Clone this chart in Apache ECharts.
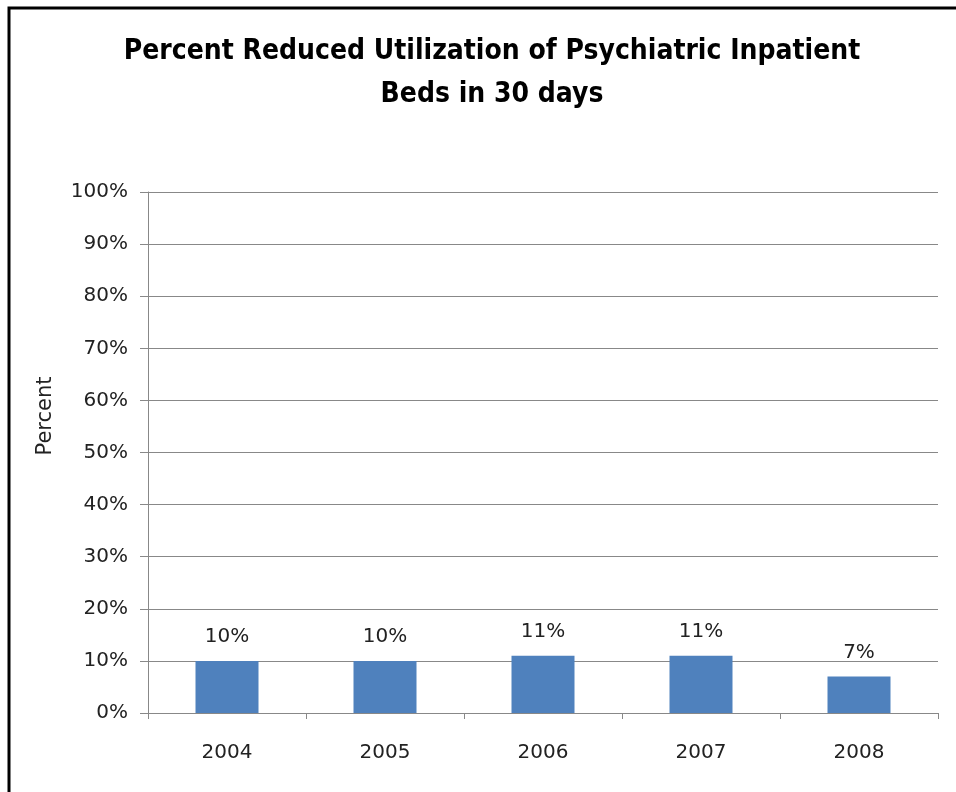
<!DOCTYPE html>
<html>
<head>
<meta charset="utf-8">
<script src="https://cdn.jsdelivr.net/npm/echarts@6/dist/echarts.min.js"></script>
<style>
  html, body { margin: 0; padding: 0; background: #fff; }
  #main { width: 956px; height: 792px; }
</style>
</head>
<body>
<div id="main"></div>
<script>
var years = ['2004', '2005', '2006', '2007', '2008'];
var percentReduced = [10, 10, 11, 11, 7];
var yTicks = [0, 10, 20, 30, 40, 50, 60, 70, 80, 90, 100];

var chart = echarts.init(document.getElementById('main'));

var titleFont = '"DejaVu Sans Condensed", sans-serif';
var font = '"DejaVu Sans", sans-serif';

var option = {
  backgroundColor: '#ffffff',
  animation: false,
  title: {
    text: 'Percent Reduced Utilization of Psychiatric Inpatient\nBeds in 30 days',
    left: 487,
    textAlign: 'center',
    top: 25,
    textStyle: {
      fontFamily: titleFont,
      fontSize: 28,
      fontWeight: 'bold',
      color: '#000',
      lineHeight: 43
    }
  },
  graphic: [{
    type: 'polyline',
    shape: { points: [[9, 792], [9, 8], [956, 8]] },
    style: { stroke: '#000', lineWidth: 3, fill: null }
  }, {
    // y axis title sits a bit above the axis middle in the original
    type: 'text',
    x: 46,
    y: 416,
    rotation: Math.PI / 2,
    style: {
      text: 'Percent',
      fontFamily: font,
      fontSize: 21,
      fill: '#222',
      align: 'center',
      verticalAlign: 'middle'
    }
  }],
  grid: {
    left: 148,
    right: 18,
    top: 192,
    bottom: 79
  },
  xAxis: {
    type: 'category',
    data: years,
    axisLine: { lineStyle: { color: '#888', width: 1 } },
    axisTick: { show: true, length: 6, lineStyle: { color: '#888' } },
    axisLabel: {
      fontFamily: font,
      fontSize: 20,
      color: '#222',
      margin: 30
    }
  },
  yAxis: {
    type: 'value',
    min: yTicks[0],
    max: yTicks[yTicks.length - 1],
    interval: 10,
    axisLine: { show: true, lineStyle: { color: '#888', width: 1 } },
    axisTick: { show: true, inside: false, length: 8, lineStyle: { color: '#888' } },
    axisLabel: {
      formatter: '{value}%',
      fontFamily: font,
      fontSize: 20,
      color: '#222',
      margin: 20
    },
    splitLine: { show: true, lineStyle: { color: '#888', width: 1 } }
  },
  series: [{
    type: 'bar',
    data: percentReduced,
    barWidth: 63,
    itemStyle: { color: '#4f81bd' },
    label: {
      show: true,
      position: 'top',
      distance: 14,
      formatter: '{c}%',
      fontFamily: font,
      fontSize: 20,
      color: '#222'
    }
  }]
};

chart.setOption(option);
</script>
</body>
</html>
